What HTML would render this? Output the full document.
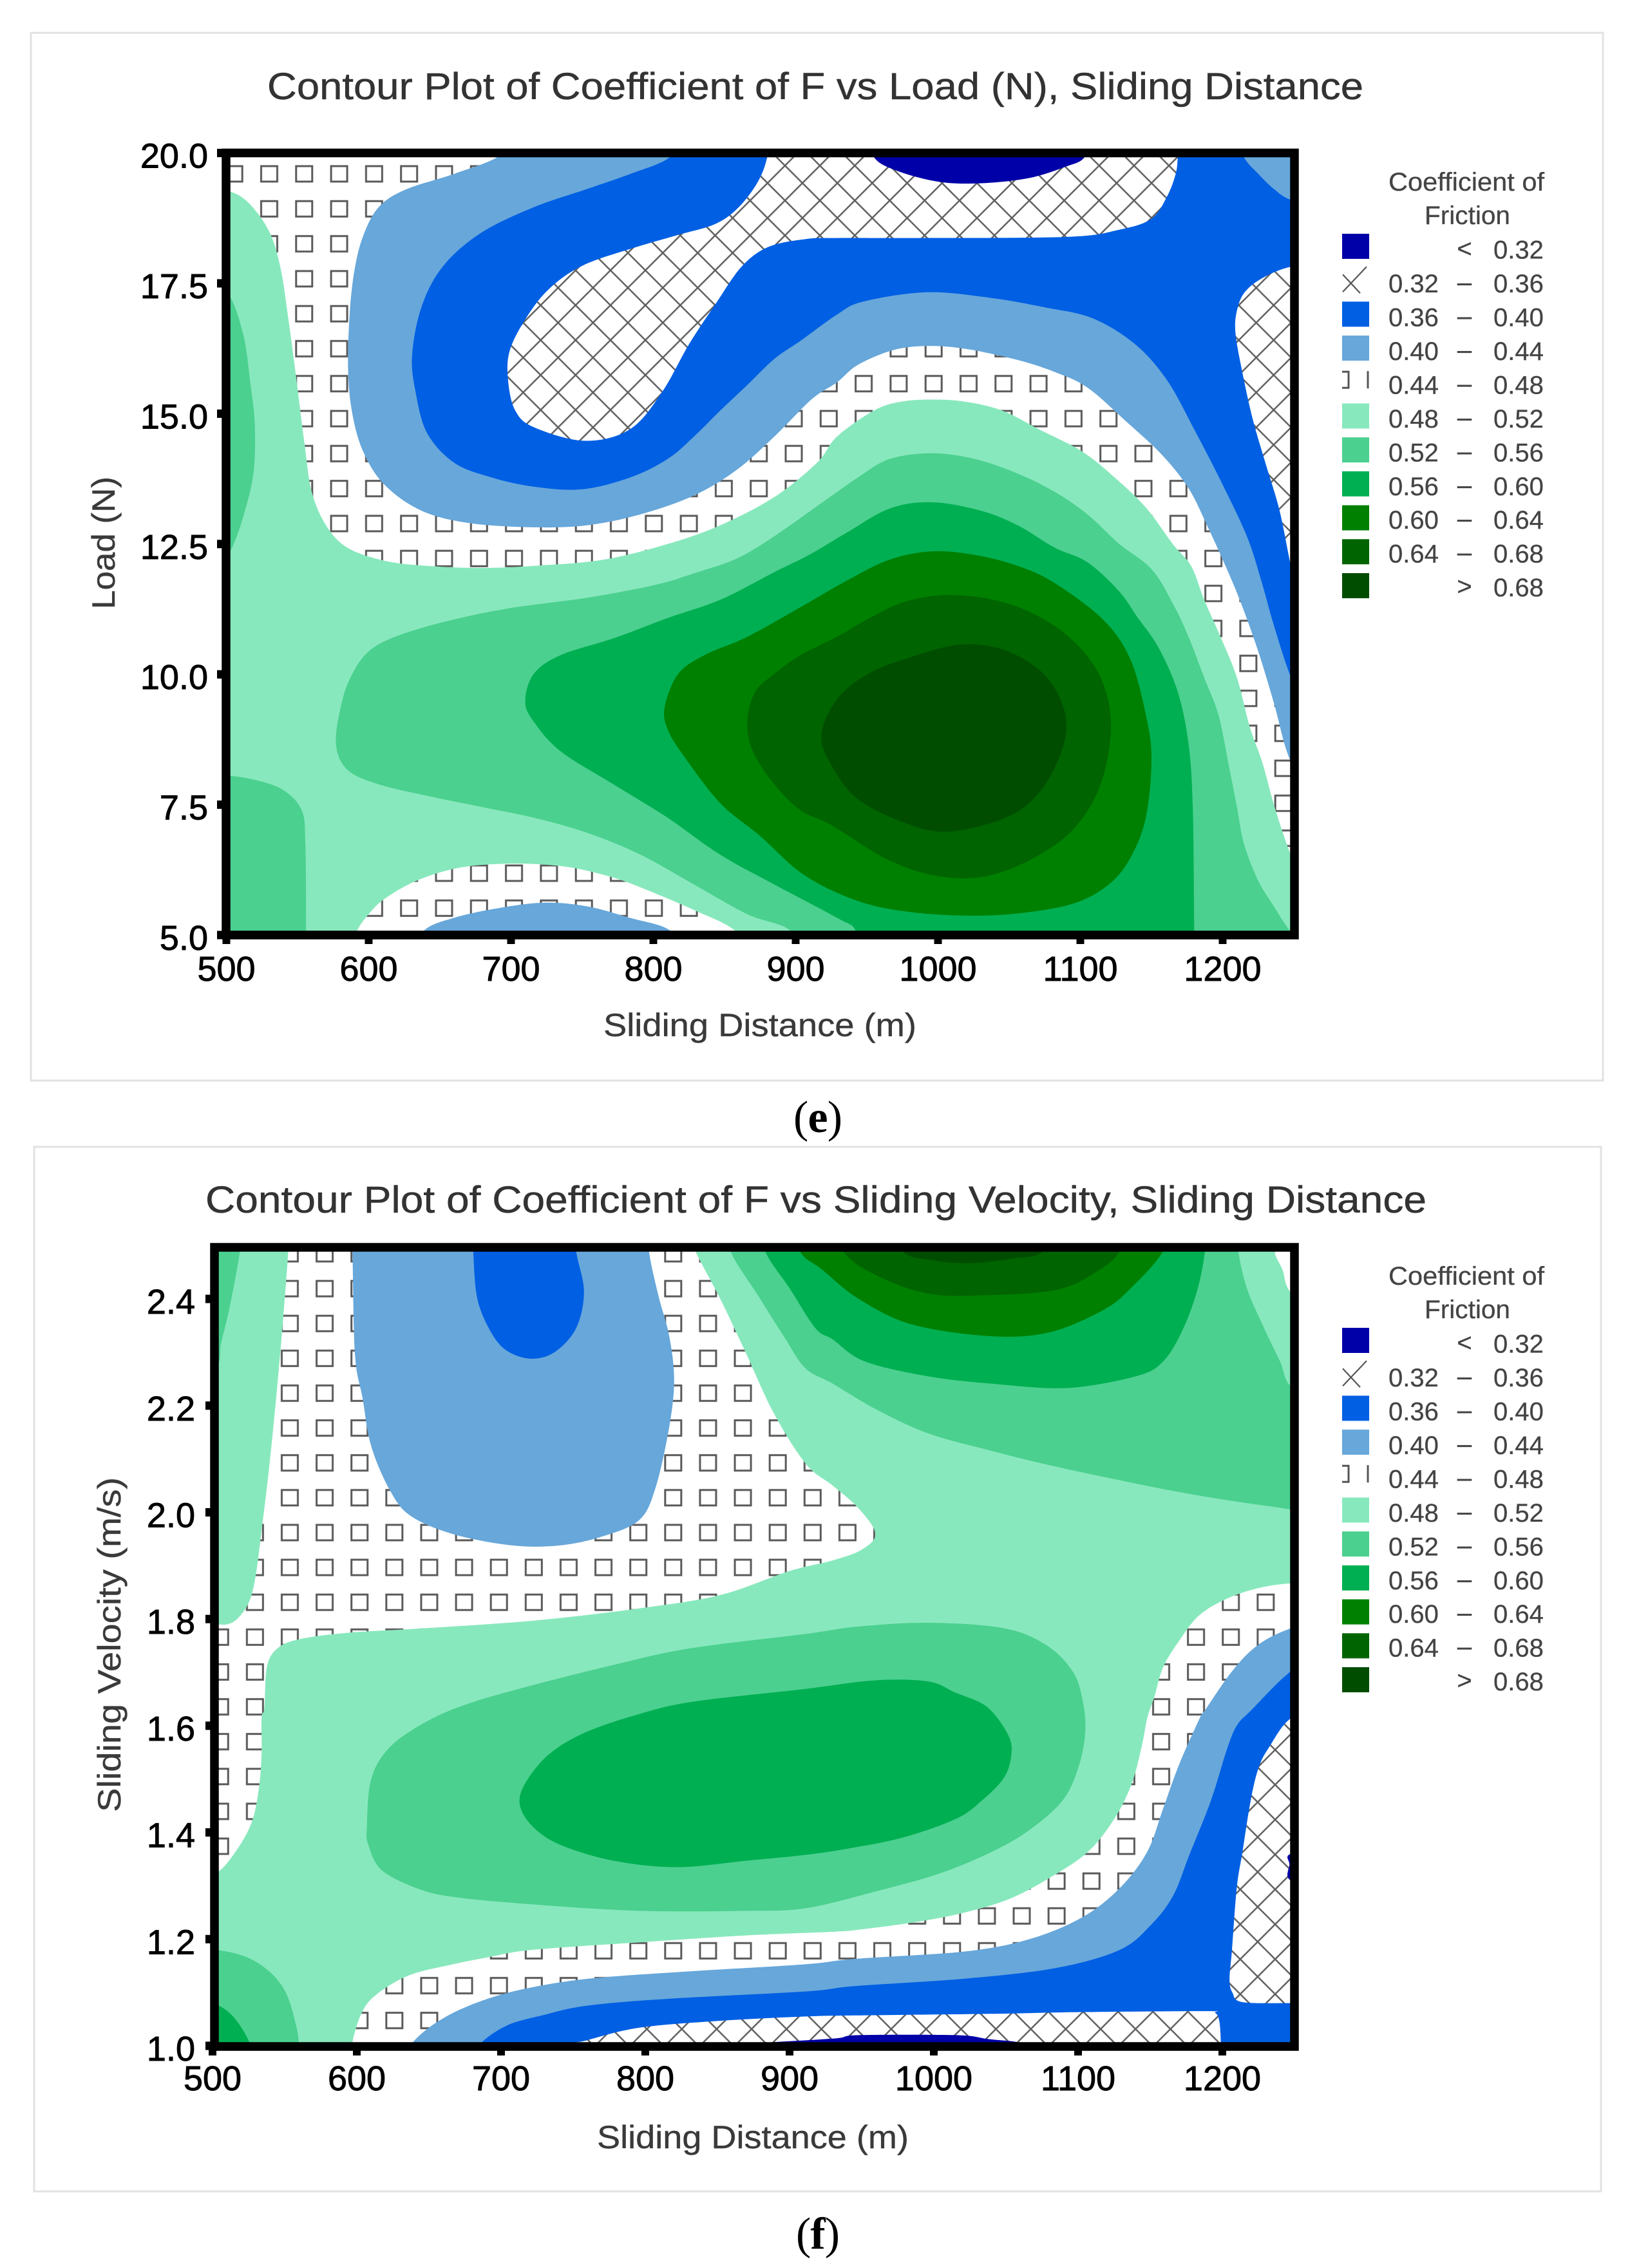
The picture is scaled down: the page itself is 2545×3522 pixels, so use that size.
<!DOCTYPE html>
<html>
<head>
<meta charset="utf-8">
<title>Contour plots of coefficient of friction</title>
<style>
html,body{margin:0;padding:0;background:#fff;}
svg{display:block;}
text{font-family:"Liberation Sans",sans-serif;}
.title{font-size:58px;fill:#333;stroke:#333;stroke-width:.5px;}
.axis-title{font-size:50px;fill:#3a3a3a;stroke:#3a3a3a;stroke-width:.4px;}
.tick-label{font-size:54px;fill:#000;stroke:#000;stroke-width:.9px;}
.legend-text{font-size:40px;fill:#444;stroke:#444;stroke-width:.3px;}
.caption{font-family:"Liberation Serif",serif;font-size:70px;fill:#000;}
</style>
</head>
<body>
<svg id="figure" xmlns="http://www.w3.org/2000/svg" width="2545" height="3522" viewBox="0 0 2545 3522">
  <defs>
    <pattern id="squares-e" patternUnits="userSpaceOnUse" x="390.85" y="242.85" width="54.3" height="54.3">
      <rect width="54.3" height="54.3" fill="#fff"/>
      <rect x="14.65" y="15.15" width="25" height="24" fill="none" stroke="#5a5a5a" stroke-width="3"/>
    </pattern>
    <pattern id="squares-f" patternUnits="userSpaceOnUse" x="422.94" y="1919.94" width="54.12" height="54.12">
      <rect width="54.12" height="54.12" fill="#fff"/>
      <rect x="14.56" y="15.06" width="25" height="24" fill="none" stroke="#5a5a5a" stroke-width="3"/>
    </pattern>
    <pattern id="hatch-e" patternUnits="userSpaceOnUse" x="893.7" y="474" width="54.2" height="54.2">
      <rect width="54.2" height="54.2" fill="#fff"/>
      <path d="M0 0L54.2 54.2M54.2 0L0 54.2" stroke="#5f5f5f" stroke-width="2.5" fill="none"/>
    </pattern>
    <pattern id="hatch-f" patternUnits="userSpaceOnUse" x="1980" y="2717.3" width="54.2" height="54.2">
      <rect width="54.2" height="54.2" fill="#fff"/>
      <path d="M0 0L54.2 54.2M54.2 0L0 54.2" stroke="#5f5f5f" stroke-width="2.5" fill="none"/>
    </pattern>
    <clipPath id="clip-e"><rect x="355" y="241" width="1652" height="1207"/></clipPath>
    <clipPath id="clip-f"><rect x="336" y="1941" width="1671" height="1233"/></clipPath>
  </defs>

  <rect x="48" y="51" width="2441" height="1627" fill="#fff" stroke="#e2e2e2" stroke-width="3"/>
  <rect x="53" y="1781" width="2433" height="1622" fill="#fff" stroke="#e2e2e2" stroke-width="3"/>

  <text class="title" x="415" y="154" textLength="1702" lengthAdjust="spacingAndGlyphs">Contour Plot of Coefficient of F vs Load (N), Sliding Distance</text>
  <text class="title" x="319" y="1883" textLength="1896" lengthAdjust="spacingAndGlyphs">Contour Plot of Coefficient of F vs Sliding Velocity, Sliding Distance</text>

  <g id="plot-e" clip-path="url(#clip-e)"></g>
  <g id="plot-f" clip-path="url(#clip-f)"></g>

  <rect x="351" y="237.5" width="1659" height="1214.5" fill="none" stroke="#000" stroke-width="13.5"/>
  <rect x="333" y="1937" width="1677" height="1241" fill="none" stroke="#000" stroke-width="13.5"/>

  <g id="axes-e"></g>
  <g id="axes-f"></g>

  <text class="axis-title" x="937" y="1609" textLength="486" lengthAdjust="spacingAndGlyphs">Sliding Distance (m)</text>
  <text class="axis-title" x="927" y="3336" textLength="484" lengthAdjust="spacingAndGlyphs">Sliding Distance (m)</text>
  <text class="axis-title" transform="translate(178,946) rotate(-90)" textLength="206" lengthAdjust="spacingAndGlyphs">Load (N)</text>
  <text class="axis-title" transform="translate(187,2814) rotate(-90)" textLength="520" lengthAdjust="spacingAndGlyphs">Sliding Velocity (m/s)</text>

  <g id="legend-e"></g>
  <g id="legend-f"></g>

  <text class="caption" x="1232" y="1758" textLength="76">(<tspan font-weight="bold">e</tspan>)</text>
  <text class="caption" x="1236" y="3492" textLength="68">(<tspan font-weight="bold">f</tspan>)</text>
</svg>

<script>
/* ---- shared category data ---- */
const legendLow  = ['', '0.32', '0.36', '0.40', '0.44', '0.48', '0.52', '0.56', '0.60', '0.64', ''];
const legendHigh = ['0.32', '0.36', '0.40', '0.44', '0.48', '0.52', '0.56', '0.60', '0.64', '0.68', '0.68'];
const legendSign = ['<', '–', '–', '–', '–', '–', '–', '–', '–', '–', '>'];
const levelKeys  = ['lt32', 'l32', 'l36', 'l40', 'l44', 'l48', 'l52', 'l56', 'l60', 'l64', 'gt68'];
const levelColor = {lt32:'#0000a8', l36:'#005fe3', l40:'#67a7da', l48:'#88e8bd', l52:'#4bd08f', l56:'#00af52', l60:'#008000', l64:'#006400', gt68:'#004d00'};

/* ---- chart (e) axis ticks ---- */
const eXTicks = [500, 600, 700, 800, 900, 1000, 1100, 1200];
const eYTicks = [5, 7.5, 10, 12.5, 15, 17.5, 20];

/* ---- chart (e) contour boundaries: [sliding distance m, load N] ---- */
const eBand48 = [[480,19.3],[500,19.28],[515,19.06],[530,18.5],[538,17.8],[543.5,16.83],[549,15.7],[555,14.4],[560,13.5],[570,12.86],[585,12.43],[611,12.18],[641,12.08],[678.5,12.04],[716,12.08],[765,12.2],[810,12.5],[847,12.86],[885,13.4],[915,14.06],[929,14.56],[955,15.06],[974,15.23],[996,15.27],[1019,15.23],[1045,15.06],[1071,14.7],[1101,14.28],[1124,13.78],[1146,13.2],[1165,12.5],[1178,12.07],[1187,11.43],[1198.5,10.72],[1210,9.94],[1219,9],[1228,8.3],[1236,7.5],[1247,6.6],[1260,5.8],[1280,4.5],[1280,3],[870,3],[866,4.6],[857,5.09],[828.5,5.48],[798.5,5.83],[772,6.1],[738.5,6.31],[701,6.37],[663.5,6.29],[633.5,6.04],[611,5.69],[600,5.4],[592,5.09],[585,4.6],[585,3],[470,3],[470,19.3]];
const eLeftStrip52 = [[480,17.4],[500,17.33],[511.6,16.55],[517,15.55],[520,14.77],[519,13.85],[511.6,13],[504,12.43],[500,12.38],[480,12.3]];
const eCornerBlob52 = [[480,8.06],[500,8.06],[521,7.97],[540,7.78],[553,7.39],[555.5,6.75],[556,5.09],[556,4],[480,4]];
const eMain52 = [[581,9.45],[577,8.67],[585,8.17],[607,7.89],[641,7.67],[678.5,7.46],[716,7.25],[753.5,6.96],[791,6.54],[828.5,5.97],[866,5.4],[896,5.09],[905,4.5],[1265,4.5],[1247,5.09],[1236,5.55],[1225,6.04],[1215,6.75],[1210,7.46],[1204,8.3],[1197,9.23],[1187,9.94],[1176,10.72],[1165,11.36],[1150,12.02],[1127,12.51],[1105,13.07],[1082,13.5],[1056,13.85],[1026,14.13],[996,14.24],[966,14.13],[944,13.78],[925,13.42],[885,12.65],[858.5,12.22],[830,11.95],[802,11.72],[753.5,11.47],[697,11.26],[652,11],[618.5,10.72],[600,10.44],[588.5,10.01]];
const eMain56 = [[710,9.48],[716,10.01],[735,10.37],[772,10.69],[810,11.08],[847,11.43],[885,11.96],[910,12.3],[936,12.72],[966,13.18],[996,13.3],[1030,13.14],[1056,12.86],[1082,12.43],[1105,12.15],[1127,11.6],[1140,11.1],[1155,10.51],[1168.5,9.66],[1176,8.67],[1179,7.46],[1180,5.09],[1180,4.5],[945,4.5],[942,5.09],[929,5.33],[885,5.97],[847,6.54],[810,7.25],[772,7.89],[735,8.52],[716,9.09]];
const eMain60 = [[808,9.38],[817.5,10.01],[836,10.37],[866,10.72],[903.5,11.29],[936,11.8],[966,12.2],[996,12.36],[1026,12.29],[1056,12.08],[1082,11.75],[1116,11.05],[1135,10.3],[1146,9.23],[1150,8.38],[1146,7.25],[1135,6.47],[1120,5.97],[1097,5.62],[1064,5.44],[1026,5.37],[981,5.44],[944,5.65],[906,6.15],[875,6.9],[847,7.53],[821,8.45],[810,8.95]];
const eMain64 = [[866,9.09],[871.5,9.66],[885,10.01],[903.5,10.37],[929,10.72],[950,11.05],[977.5,11.4],[1011,11.52],[1050,11.35],[1086,10.85],[1112,10.06],[1121.5,9.07],[1114,7.87],[1094,7],[1064,6.43],[1030,6.11],[996,6.15],[963,6.47],[925,7.11],[903.5,7.39],[885,7.89],[870,8.52]];
const eCore68 = [[1015,10.57],[1045,10.48],[1071,10.09],[1086,9.52],[1090,8.88],[1080,8.1],[1064,7.53],[1041,7.18],[1004,6.98],[974,7.18],[944,7.6],[927,8.17],[918,8.81],[929,9.52],[951,10.01],[981,10.33]];
const eBlue40 = [[700,20.4],[692,19.95],[660,19.6],[626,19.3],[607,18.96],[596,18.4],[590,17.75],[586.6,16.9],[585.5,15.84],[588.5,15],[596,14.28],[611,13.64],[637,13.14],[671,12.9],[716,12.82],[753.5,12.86],[791,13.07],[828.5,13.43],[858.5,13.92],[885,14.56],[911,15.27],[929,15.6],[944,15.94],[970,16.23],[996,16.3],[1022.5,16.23],[1056,16.03],[1082,15.8],[1105,15.5],[1131,14.88],[1157,14.22],[1176,13.57],[1189,12.86],[1202,12.08],[1213,11.36],[1225,10.44],[1236,9.45],[1247,8.38],[1265,7.5],[1290,7.5],[1290,20.4]];
const eBlue36 = [[820,20.4],[811.6,19.92],[784,19.6],[753.5,19.31],[716,18.96],[678.5,18.46],[652,17.82],[637,17.04],[630.5,16.12],[633,15.41],[641,14.63],[660,14.06],[686,13.78],[716,13.6],[750,13.55],[784,13.78],[810,14.13],[828.5,14.56],[847,15.06],[866,15.55],[885,16.05],[903.5,16.4],[929,16.9],[947.6,17.15],[992.5,17.33],[1037.5,17.22],[1075,17.04],[1108.6,16.83],[1138.6,16.33],[1161,15.64],[1180,14.7],[1198.5,13.72],[1217,12.65],[1227,11.81],[1236,10.94],[1248,9.94],[1265,8.9],[1290,8.9],[1290,20.4]];
const eHatchKeyhole = [[882,20.4],[880,19.92],[873.5,19.45],[860,18.96],[843.6,18.64],[817.5,18.43],[788.6,18.2],[751,17.85],[727,17.4],[710.5,16.83],[699,16.2],[698,15.62],[703,15.06],[716,14.74],[751.6,14.48],[783.5,14.7],[806,15.41],[825,16.33],[843.6,17.1],[862,17.82],[881,18.2],[907,18.35],[929,18.37],[981,18.37],[1090,18.39],[1127.5,18.53],[1150,18.74],[1161,19.17],[1167,19.6],[1168.5,19.92],[1170,20.4]];
const eHatchRight = [[1275,17.9],[1248,17.82],[1228.5,17.61],[1215.5,17.33],[1210,16.97],[1209,16.55],[1213.5,15.84],[1221,14.91],[1230,14.06],[1240,13.14],[1248,12.08],[1255,11.4],[1275,11.4]];
const eDark32 = [[950,20.4],[955,19.92],[970,19.67],[1000,19.45],[1030,19.42],[1064,19.52],[1090,19.74],[1103,19.92],[1110,20.4]];
const eCorner40 = [[1210,20.4],[1215,19.92],[1225,19.6],[1236,19.31],[1248,19.1],[1275,18.9],[1275,20.4]];
const eBottom40 = [[630,4.6],[639,5.09],[660,5.33],[690,5.51],[723.5,5.62],[753.5,5.55],[783.5,5.33],[811.6,5.09],[820,4.6]];

/* ---- chart (f) axis ticks ---- */
const fXTicks = [500, 600, 700, 800, 900, 1000, 1100, 1200];
const fYTicks = [1, 1.2, 1.4, 1.6, 1.8, 2, 2.2, 2.4];

/* ---- chart (f) contour boundaries: [sliding distance m, sliding velocity m/s] ---- */
const fStrip48 = [[553,2.55],[552.5,2.49],[549,2.365],[545,2.24],[539.5,2.09],[534,1.966],[529.6,1.876],[525,1.83],[517,1.8],[510,1.79],[502.6,1.79],[480,1.79],[480,2.55]];
const fStrip52 = [[520,2.55],[519,2.49],[512,2.386],[506,2.317],[502.6,2.27],[480,2.2],[480,2.55]];
const fMain48 = [[480,1.31],[502,1.323],[516,1.364],[527,1.418],[532,1.48],[534,1.547],[534,1.615],[536,1.634],[537.7,1.71],[545,1.745],[560,1.762],[593,1.774],[648.5,1.783],[722.4,1.797],[796,1.82],[852,1.845],[900,1.89],[930,1.91],[950,1.93],[959.5,1.96],[948,2.007],[930,2.05],[911.5,2.09],[889,2.186],[870,2.297],[852,2.4],[833,2.5],[828,2.56],[1232,2.56],[1236,2.49],[1241.7,2.455],[1248,2.41],[1275,2.35],[1275,1.867],[1248,1.867],[1225,1.858],[1203,1.838],[1184,1.807],[1170,1.759],[1159,1.71],[1153,1.655],[1148,1.615],[1144,1.56],[1137,1.49],[1125,1.425],[1107,1.364],[1081,1.316],[1052,1.275],[1018.5,1.248],[985,1.231],[949,1.218],[932,1.214],[870,1.207],[796,1.194],[722,1.18],[693,1.167],[667,1.153],[637,1.133],[615,1.099],[604,1.065],[597,1.007],[595,0.95],[480,0.95]];
const fTop52 = [[855,2.56],[859,2.49],[878,2.407],[896,2.33],[911,2.27],[930,2.241],[960,2.193],[996,2.148],[1037.5,2.117],[1077.5,2.09],[1125.5,2.062],[1170,2.038],[1210,2.02],[1248,2.005],[1275,1.99],[1275,2.2],[1248,2.235],[1240,2.283],[1229,2.345],[1217,2.42],[1211,2.49],[1208,2.56]];
const fTop56 = [[878,2.56],[883,2.49],[900,2.42],[918,2.345],[930,2.324],[952,2.283],[996,2.255],[1040.6,2.241],[1092,2.233],[1140,2.255],[1159,2.283],[1173,2.345],[1183,2.42],[1188,2.49],[1190,2.56]];
const fTop60 = [[902,2.56],[907,2.49],[922.5,2.455],[948,2.4],[985,2.352],[1040.6,2.33],[1081,2.338],[1118,2.38],[1136.5,2.42],[1159,2.49],[1165,2.56]];
const fTop64 = [[930,2.56],[937,2.49],[959.5,2.445],[996,2.41],[1037,2.407],[1085,2.417],[1111,2.448],[1129,2.49],[1135,2.56]];
const fTop68 = [[970,2.56],[978,2.49],[1000,2.472],[1026,2.467],[1055,2.476],[1076,2.49],[1084,2.56]];
const fMain52 = [[607,1.411],[610,1.5],[623,1.56],[648.5,1.608],[678,1.642],[722,1.676],[778,1.714],[831,1.745],[911,1.772],[948,1.786],[996,1.793],[1048,1.783],[1077.5,1.752],[1096,1.703],[1103,1.65],[1105,1.588],[1100,1.52],[1089,1.459],[1066,1.404],[1040.6,1.364],[1004,1.323],[959,1.289],[911.4,1.258],[870,1.253],[796,1.253],[722,1.265],[667,1.279],[641,1.296],[617,1.33],[608,1.377]];
const fMain56 = [[713,1.452],[717,1.493],[733.5,1.547],[759,1.588],[796,1.622],[833,1.645],[911,1.669],[959,1.685],[996,1.683],[1015,1.662],[1037,1.635],[1052,1.58],[1053.5,1.54],[1048,1.5],[1033,1.459],[1015,1.425],[978,1.39],[941,1.37],[911.4,1.358],[870,1.347],[822,1.335],[778,1.347],[741,1.377],[722,1.411]];
const fCorner52 = [[480,1.18],[502,1.18],[523,1.167],[539.5,1.139],[551,1.099],[558,1.038],[560,1],[561,0.95],[480,0.95]];
const fCorner56 = [[480,1.09],[502,1.078],[515.5,1.051],[526.6,1],[530,0.95],[480,0.95]];
const fTop40 = [[596,2.56],[597,2.49],[598.7,2.297],[604,2.214],[610,2.124],[623,2.041],[637.5,1.993],[667,1.959],[707.7,1.938],[741,1.938],[770.5,1.955],[796,1.986],[807.3,2.048],[816.5,2.159],[820,2.248],[816.5,2.331],[809,2.407],[802.5,2.49],[801,2.56]];
const fTop36 = [[680,2.56],[680.7,2.49],[683.6,2.4],[693,2.338],[704,2.303],[720.6,2.288],[737,2.3],[752,2.345],[757.5,2.414],[752,2.49],[750,2.56]];
const fLow40 = [[625,0.95],[636.7,1],[652,1.038],[674,1.071],[704,1.099],[741,1.119],[778,1.13],[833,1.14],[911.4,1.153],[945,1.163],[1022,1.177],[1066.4,1.2],[1103,1.241],[1129,1.296],[1148,1.364],[1159,1.445],[1170,1.527],[1184.5,1.615],[1188,1.629],[1207,1.703],[1225,1.752],[1248,1.783],[1275,1.8],[1275,0.95]];
const fLow36 = [[672,0.95],[684,1],[704,1.038],[730,1.058],[759,1.075],[814.8,1.088],[911.4,1.102],[945,1.112],[1022,1.126],[1085,1.146],[1129,1.18],[1151,1.228],[1166,1.282],[1177,1.357],[1192,1.459],[1203,1.554],[1210,1.6],[1220,1.629],[1248,1.703],[1275,1.74],[1275,0.95]];
const fHatchBand = [[735,0.95],[746.5,1],[759,1.01],[796,1.034],[852,1.047],[911.4,1.055],[945,1.057],[1040.6,1.06],[1096,1.063],[1188,1.065],[1195,1.062],[1198,1.045],[1199,1],[1199,0.95]];
const fHatchRight = [[1275,1.08],[1248,1.08],[1214,1.082],[1207,1.1],[1205,1.125],[1206.6,1.177],[1210,1.296],[1214,1.364],[1219.6,1.459],[1225,1.52],[1232.5,1.56],[1248,1.615],[1275,1.64]];
const fDark32 = [[840,0.95],[852,1],[889,1.007],[932,1.014],[948,1.02],[1015,1.02],[1037,1.013],[1066,1],[1075,0.95]];
const fEdge32 = [[1275,1.37],[1247.5,1.36],[1246.5,1.34],[1247.5,1.31],[1275,1.3]];

/* ---- paint order of each chart: [name, level, boundary] ---- */
const eLayers = [
  ['contour-048-052', 'l48', eBand48],
  ['contour-052-056-left', 'l52', eLeftStrip52],
  ['contour-052-056-corner', 'l52', eCornerBlob52],
  ['contour-052-056-main', 'l52', eMain52],
  ['contour-056-060', 'l56', eMain56],
  ['contour-060-064', 'l60', eMain60],
  ['contour-064-068', 'l64', eMain64],
  ['contour-above-068', 'gt68', eCore68],
  ['contour-040-044', 'l40', eBlue40],
  ['contour-036-040', 'l36', eBlue36],
  ['contour-032-036-keyhole', 'l32', eHatchKeyhole],
  ['contour-032-036-right', 'l32', eHatchRight],
  ['contour-below-032', 'lt32', eDark32],
  ['contour-040-044-corner', 'l40', eCorner40],
  ['contour-040-044-bottom', 'l40', eBottom40]
];
const fLayers = [
  ['contour-048-052-strip', 'l48', fStrip48],
  ['contour-052-056-strip', 'l52', fStrip52],
  ['contour-048-052-main', 'l48', fMain48],
  ['contour-052-056-top', 'l52', fTop52],
  ['contour-056-060-top', 'l56', fTop56],
  ['contour-060-064-top', 'l60', fTop60],
  ['contour-064-068-top', 'l64', fTop64],
  ['contour-above-068-top', 'gt68', fTop68],
  ['contour-052-056-main', 'l52', fMain52],
  ['contour-056-060-main', 'l56', fMain56],
  ['contour-052-056-corner', 'l52', fCorner52],
  ['contour-056-060-corner', 'l56', fCorner56],
  ['contour-040-044-top', 'l40', fTop40],
  ['contour-036-040-top', 'l36', fTop36],
  ['contour-040-044-low', 'l40', fLow40],
  ['contour-036-040-low', 'l36', fLow36],
  ['contour-032-036-band', 'l32', fHatchBand],
  ['contour-032-036-right', 'l32', fHatchRight],
  ['contour-below-032', 'lt32', fDark32],
  ['contour-below-032-edge', 'lt32', fEdge32]
];

/* ---- axis functions ---- */
function eX(v){ return 351.5 + (v - 500) * 2.21; }
function eY(v){ return 1452 - (v - 5) * 80.96; }
function fX(v){ return 330 + (v - 500) * 2.24; }
function fY(v){ return 3177 - (v - 1) * 828.5; }

var NS = 'http://www.w3.org/2000/svg';
function make(tag, parent, attrs){
  var el = document.createElementNS(NS, tag);
  for (var k in attrs) el.setAttribute(k, attrs[k]);
  parent.appendChild(el);
  return el;
}

function smoothPath(points, sx, sy){
  var p = points.map(function(q){ return [sx(q[0]), sy(q[1])]; });
  var n = p.length, d = 'M' + p[0][0].toFixed(1) + ' ' + p[0][1].toFixed(1);
  for (var i = 0; i < n; i++){
    var p0 = p[(i - 1 + n) % n], p1 = p[i], p2 = p[(i + 1) % n], p3 = p[(i + 2) % n];
    d += 'C' + (p1[0] + (p2[0] - p0[0]) / 6).toFixed(1) + ' ' + (p1[1] + (p2[1] - p0[1]) / 6).toFixed(1) + ' ' +
         (p2[0] - (p3[0] - p1[0]) / 6).toFixed(1) + ' ' + (p2[1] - (p3[1] - p1[1]) / 6).toFixed(1) + ' ' +
         p2[0].toFixed(1) + ' ' + p2[1].toFixed(1);
  }
  return d + 'Z';
}

function drawPlot(groupId, layers, sx, sy, suffix, box){
  var g = document.getElementById(groupId);
  var base = make('rect', g, {x: box[0], y: box[1], width: box[2], height: box[3], fill: 'url(#squares-' + suffix + ')'});
  
  
  layers.forEach(function(layer){
    var fill = layer[1] === 'l32' ? 'url(#hatch-' + suffix + ')' : levelColor[layer[1]];
    var path = make('path', g, {d: smoothPath(layer[2], sx, sy), fill: fill});
    
    
  });
}

function drawAxes(groupId, xTicks, yTicks, sx, sy, opt){
  var g = document.getElementById(groupId);
  xTicks.forEach(function(v){
    var tick = make('rect', g, {x: sx(v) - 6, y: opt.xTickTop, width: 12, height: 9, fill: '#000'});
    
    
    var label = make('text', g, {x: sx(v), y: opt.xLabelY, 'text-anchor': 'middle', 'class': 'tick-label'});
    
    
    label.textContent = String(v);
  });
  yTicks.forEach(function(v){
    var tick = make('rect', g, {x: opt.yTickLeft, y: sy(v) - 6.5, width: 9, height: 13, fill: '#000'});
    
    
    var label = make('text', g, {x: opt.yLabelX, y: sy(v) + 23, 'text-anchor': 'end', 'class': 'tick-label'});
    
    
    label.textContent = v.toFixed(1);
  });
}

function drawLegend(groupId, dy){
  var g = document.getElementById(groupId);
  var t1 = make('text', g, {x: 2156, y: 296 + dy, textLength: 242, lengthAdjust: 'spacingAndGlyphs', 'class': 'legend-text'});
  
  
  t1.textContent = 'Coefficient of';
  var t2 = make('text', g, {x: 2212, y: 348 + dy, textLength: 133, lengthAdjust: 'spacingAndGlyphs', 'class': 'legend-text'});
  
  
  t2.textContent = 'Friction';
  levelKeys.forEach(function(key, i){
    var cy = 382.5 + 52.7 * i + dy, base = 401.6 + 52.45 * i + dy;
    var swatch;
    if (key === 'l32'){
      swatch = make('path', g, {d: 'M2085 ' + (cy + 18) + 'L2122 ' + (cy - 21) + 'M2085 ' + (cy - 9) + 'L2112 ' + (cy + 20), stroke: '#555', 'stroke-width': 2.2, fill: 'none'});
    } else if (key === 'l44'){
      swatch = make('path', g, {d: 'M2084 ' + (cy - 16) + 'H2094V' + (cy + 9) + 'H2084M2124 ' + (cy - 17) + 'V' + (cy + 10), stroke: '#555', 'stroke-width': 3, fill: 'none'});
    } else {
      swatch = make('rect', g, {x: 2084, y: cy - 19.5, width: 42, height: 39, fill: levelColor[key]});
    }
    
    
    if (legendLow[i]){
      var low = make('text', g, {x: 2156, y: base, 'class': 'legend-text'});
      
      
      low.textContent = legendLow[i];
    }
    var sign = make('text', g, {x: 2274, y: base - 2, 'text-anchor': 'middle', 'class': 'legend-text'});
    
    
    sign.textContent = legendSign[i];
    var high = make('text', g, {x: 2319, y: base, 'class': 'legend-text'});
    
    
    high.textContent = legendHigh[i];
  });
}

drawPlot('plot-e', eLayers, eX, eY, 'e', [355, 241, 1652, 1207]);
drawPlot('plot-f', fLayers, fX, fY, 'f', [336, 1941, 1671, 1233]);
drawAxes('axes-e', eXTicks, eYTicks, eX, eY, {xTickTop: 1457, xLabelY: 1523, yTickLeft: 337, yLabelX: 323});
drawAxes('axes-f', fXTicks, fYTicks, fX, fY, {xTickTop: 3183, xLabelY: 3246, yTickLeft: 319, yLabelX: 303});
drawLegend('legend-e', 0);
drawLegend('legend-f', 1699);
</script>
</body>
</html>
